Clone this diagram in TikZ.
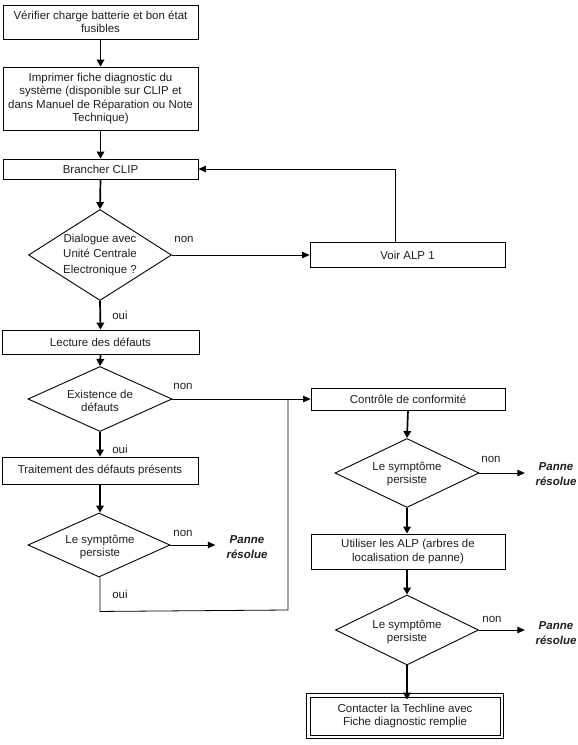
\documentclass[tikz,border=0pt]{standalone}
\usepackage{fontspec}
\setmainfont{Liberation Sans}
\usetikzlibrary{shapes.geometric,arrows.meta}
\begin{document}
\begin{tikzpicture}[x=1pt,y=-1pt,
  every node/.style={font=\fontsize{11.5}{13.3}\selectfont, text=black!88},
  box/.style={draw, line width=0.9pt, rectangle, inner sep=0pt, align=center},
  dia/.style={draw, line width=0.9pt, diamond, inner sep=0pt},
  dtext/.style={align=center, inner sep=0pt},
  lbl/.style={inner sep=0pt},
  panne/.style={align=center, font=\fontsize{11.5}{14.5}\selectfont\bfseries\itshape, inner ysep=0pt},
  thickarrow/.style={line width=1.7pt, -{Triangle[length=7pt,width=7.5pt]}},
  thinarrow/.style={line width=0.8pt, -{Triangle[length=7.5pt,width=6.5pt]}},
  thinline/.style={line width=0.8pt}]
\useasboundingbox (0,0) rectangle (578,745);
% left column
\node[box, minimum width=195pt, minimum height=34pt] (b1) at (100.5,22) {Vérifier charge batterie et bon état\\fusibles};
\node[box, minimum width=195pt, minimum height=63pt] (b2) at (100.5,98.5) {Imprimer fiche diagnostic du\\système (disponible sur CLIP et\\dans Manuel de Réparation ou Note\\Technique)};
\node[box, minimum width=195pt, minimum height=20pt] (b3) at (100.5,169) {Brancher CLIP};
\node[dia, minimum width=143pt, minimum height=91pt] (d1) at (100,255) {};
\node[dtext, font=\fontsize{11.5}{15.5}\selectfont] (d1t) at (100,255) {Dialogue avec\\Unité Centrale\\Electronique ?};
\node[box, minimum width=195pt, minimum height=25pt] (alp) at (407.5,255) {Voir ALP 1};
\node[box, minimum width=197pt, minimum height=24pt] (b4) at (100.5,342) {Lecture des défauts};
\node[dia, minimum width=144pt, minimum height=65pt] (d2) at (100,399) {};
\node[dtext] (d2t) at (100,401) {Existence de\\défauts};
\node[box, minimum width=196pt, minimum height=27pt] (b5) at (100,470.5) {Traitement des défauts présents};
\node[dia, minimum width=142pt, minimum height=64pt] (d3) at (99,545) {};
\node[dtext] (d3t) at (100,547) {Le symptôme\\persiste};
\node[panne, inner xsep=11pt] (pl) at (247,547) {Panne\\résolue};
% right column
\node[box, minimum width=194pt, minimum height=22pt] (c1) at (408,399) {Contrôle de conformité};
\node[dia, minimum width=144pt, minimum height=69pt] (d4) at (407,473) {};
\node[dtext] (d4t) at (407,474) {Le symptôme\\persiste};
\node[panne, inner xsep=10.5pt] (pr1) at (556,474) {Panne\\résolue};
\node[box, minimum width=194pt, minimum height=35pt] (u) at (408,551.5) {Utiliser les ALP (arbres de\\localisation de panne)};
\node[dia, minimum width=143pt, minimum height=70pt] (d5) at (407,630) {};
\node[dtext] (d5t) at (407,632) {Le symptôme\\persiste};
\node[panne, inner xsep=10.5pt] (pr2) at (556,633) {Panne\\résolue};
\node[box, minimum width=190pt, minimum height=38pt] (f) at (405,716) {Contacter la Techline avec\\Fiche diagnostic remplie};
\draw[line width=0.9pt] ([shift={(-3pt,3pt)}]f.north west) rectangle ([shift={(3pt,-3pt)}]f.south east);
% labels
\node[lbl] (n1) at (184,239) {non};
\node[lbl] (o1) at (120,315) {oui};
\node[lbl] (n2) at (183,386) {non};
\node[lbl] (o2) at (120,449) {oui};
\node[lbl] (n3) at (183,533) {non};
\node[lbl] (o3) at (120,594) {oui};
\node[lbl] (n4) at (491,459) {non};
\node[lbl] (n5) at (492,619) {non};
\coordinate (j) at (288,610);
% connectors
\draw[thickarrow] (b1.south) -- (b2.north);
\draw[thickarrow] (b2.south) -- (b3.north);
\draw[thickarrow] (b3.south) -- (d1.north);
\draw[thinarrow] (d1.east) -- (alp.west);
\draw[thinarrow] ([xshift=-12.5pt]alp.north) |- (b3.east);
\draw[thickarrow] (d1.south) -- (b4.north);
\draw[thickarrow] (b4.south) -- (d2.north);
\draw[thinarrow] (d2.east) -- (c1.west);
\draw[thickarrow] (d2.south) -- (b5.north);
\draw[thickarrow] (b5.south) -- ([xshift=1pt]d3.north);
\draw[thinarrow] (d3.east) -- (d3.east -| pl.west);
\draw[thinline] ([xshift=1pt]d3.south) -- ++(0,34) -- (j) -- (j |- d2.east);
\draw[thickarrow] (c1.south) -- (d4.north);
\draw[thinarrow] (d4.east) -- (d4.east -| pr1.west);
\draw[thickarrow] (d4.south) -- (d4.south |- u.north);
\draw[thickarrow] (d4.south |- u.south) -- (d5.north);
\draw[thinarrow] (d5.east) -- (d5.east -| pr2.west);
\draw[thickarrow] (d5.south) -- ([yshift=-3pt]d5.south |- f.north);
\end{tikzpicture}
\end{document}
